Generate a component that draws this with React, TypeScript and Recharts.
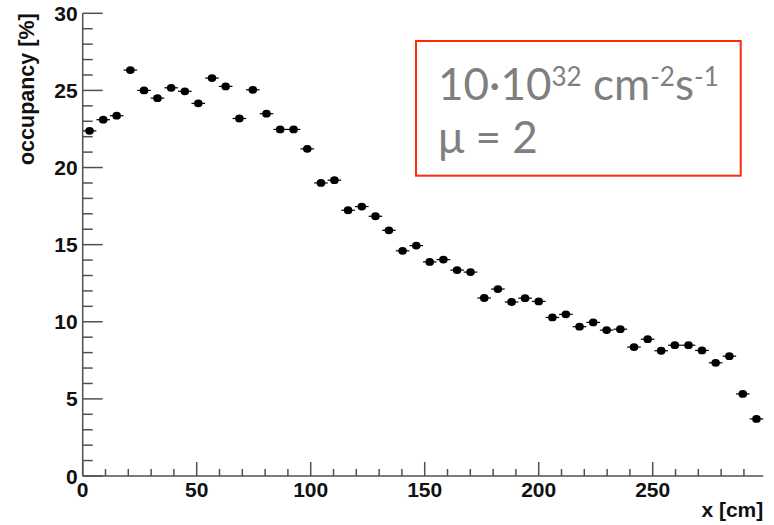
import React from 'react';
import { ComposedChart, Scatter, XAxis, YAxis, ErrorBar, Label } from 'recharts';

// bin centres [cm]
const binCenters = [3.0, 9.0, 14.9, 20.9, 26.9, 32.8, 38.8, 44.8, 50.7, 56.7, 62.7, 68.7, 74.6, 80.6, 86.6, 92.5, 98.5, 104.5, 110.4, 116.4, 122.4, 128.4, 134.3, 140.3, 146.3, 152.2, 158.2, 164.2, 170.1, 176.1, 182.1, 188.1, 194.0, 200.0, 206.0, 211.9, 217.9, 223.9, 229.8, 235.8, 241.8, 247.8, 253.7, 259.7, 265.7, 271.6, 277.6, 283.6, 289.5, 295.5];
// occupancy [%]
const occupancy = [22.38, 23.10, 23.36, 26.32, 25.00, 24.50, 25.17, 24.94, 24.16, 25.80, 25.26, 23.18, 25.04, 23.49, 22.47, 22.47, 21.21, 19.00, 19.18, 17.23, 17.47, 16.84, 15.93, 14.60, 14.94, 13.88, 14.03, 13.35, 13.22, 11.54, 12.12, 11.28, 11.53, 11.32, 10.28, 10.48, 9.68, 9.96, 9.46, 9.52, 8.36, 8.87, 8.12, 8.48, 8.48, 8.14, 7.34, 7.77, 5.32, 3.70];
// half bin width [cm]
const halfBinWidth = 2.985;

const xTicks = [0, 10, 20, 30, 40, 50, 60, 70, 80, 90, 100, 110, 120, 130, 140, 150, 160, 170, 180, 190, 200, 210, 220, 230, 240, 250, 260, 270, 280, 290];
const xLabels = [0, 50, 100, 150, 200, 250];
const yTicks = [0, 1, 2, 3, 4, 5, 6, 7, 8, 9, 10, 11, 12, 13, 14, 15, 16, 17, 18, 19, 20, 21, 22, 23, 24, 25, 26, 27, 28, 29, 30];
const yLabels = [0, 5, 10, 15, 20, 25, 30];

const xDomain = [0, 298.5];
const yDomain = [0, 30];

const data = binCenters.map((x, i) => ({ x, y: occupancy[i], ex: halfBinWidth }));

const AXIS = '#505050';
const FONT = '"Liberation Sans", Arial, Helvetica, sans-serif';

const YTick = (props: any) => {
  const { x, y, payload } = props;
  const v = payload.value;
  const major = yLabels.includes(v);
  return (
    <g>
      <line x1={x} x2={x + (major ? 20 : 10)} y1={y} y2={y} stroke={AXIS} strokeWidth={1.5} />
      {major && (
        <text x={x - 5} y={y} dy="0.36em" textAnchor="end" fontFamily={FONT} fontWeight="bold" fontSize={21} fill="#111">
          {v}
        </text>
      )}
    </g>
  );
};

const XTick = (props: any) => {
  const { x, y, payload } = props;
  const v = payload.value;
  const major = v % 50 === 0;
  return (
    <g>
      <line x1={x} x2={x} y1={y} y2={y - (major ? 14 : 7)} stroke={AXIS} strokeWidth={1.5} />
      {xLabels.includes(v) && (
        <text x={x} y={y + 21} textAnchor="middle" fontFamily={FONT} fontWeight="bold" fontSize={21} fill="#111">
          {v}
        </text>
      )}
    </g>
  );
};

const Dot = (props: any) => {
  const { cx, cy } = props;
  return <ellipse cx={cx} cy={cy} rx={4.3} ry={3.9} fill="#000" />;
};

export default function App() {
  return (
    <div style={{ position: 'absolute', left: 0, top: 0, width: 774, height: 525, background: '#fff' }}>
      <ComposedChart width={774} height={525} data={data} margin={{ top: 13.3, right: 10.7, bottom: 0, left: 0 }}>
        <XAxis
          xAxisId="main"
          dataKey="x"
          type="number"
          domain={xDomain}
          allowDataOverflow
          ticks={xTicks}
          interval={0}
          tickLine={false}
          tickSize={0}
          tickMargin={0}
          axisLine={{ stroke: AXIS, strokeWidth: 1.5 }}
          tick={<XTick />}
          height={49}
        >
          <Label
            content={(p: any) => {
              const vb = p.viewBox;
              return (
                <text x={vb.x + vb.width} y={vb.y + 41} textAnchor="end" fontFamily={FONT} fontWeight="bold" fontSize={21} fill="#111">
                  x [cm]
                </text>
              );
            }}
          />
        </XAxis>
        <XAxis
          xAxisId="top"
          orientation="top"
          dataKey="x"
          type="number"
          domain={xDomain}
          allowDataOverflow
          tick={false}
          tickLine={false}
          axisLine={{ stroke: AXIS, strokeWidth: 1.5 }}
          height={0}
        />
        <YAxis
          yAxisId="main"
          type="number"
          domain={yDomain}
          allowDataOverflow
          ticks={yTicks}
          interval={0}
          tickLine={false}
          tickSize={0}
          tickMargin={0}
          axisLine={{ stroke: AXIS, strokeWidth: 1.5 }}
          tick={<YTick />}
          width={82.7}
        >
          <Label
            content={(p: any) => {
              const vb = p.viewBox;
              const tx = 33.5;
              const ty = vb.y;
              return (
                <text x={tx} y={ty} transform={`rotate(-90 ${tx} ${ty})`} textAnchor="end" fontFamily={FONT} fontWeight="bold" fontSize={21.5} fill="#111">
                  occupancy [%]
                </text>
              );
            }}
          />
        </YAxis>
        <YAxis
          yAxisId="right"
          orientation="right"
          type="number"
          domain={yDomain}
          allowDataOverflow
          tick={false}
          tickLine={false}
          axisLine={{ stroke: AXIS, strokeWidth: 1.5 }}
          width={0}
        />
        <Scatter xAxisId="main" yAxisId="main" dataKey="y" fill="#000" shape={<Dot />} isAnimationActive={false}>
          <ErrorBar dataKey="ex" direction="x" width={0} stroke="#000" strokeWidth={1.2} isAnimationActive={false} />
        </Scatter>
      </ComposedChart>
      <svg width={774} height={525} style={{ position: 'absolute', left: 0, top: 0, pointerEvents: 'none' }}>
        <rect x={416} y={41} width={324.7} height={134.7} fill="none" stroke="#ff2a0a" strokeWidth={2} />
        <text x={438} y={100} fontFamily="Lato, 'Open Sans', sans-serif" fontSize={44} fill="#7f7f7f">
          10·10
          <tspan dy={-14} fontSize={26}>32</tspan>
          <tspan dy={14}> cm</tspan>
          <tspan dy={-14} fontSize={26}>-2</tspan>
          <tspan dy={14}>s</tspan>
          <tspan dy={-14} fontSize={26}>-1</tspan>
        </text>
        <text x={438} y={153} fontFamily="Lato, 'Open Sans', sans-serif" fontSize={44} fill="#7f7f7f">
          μ = 2
        </text>
      </svg>
    </div>
  );
}
